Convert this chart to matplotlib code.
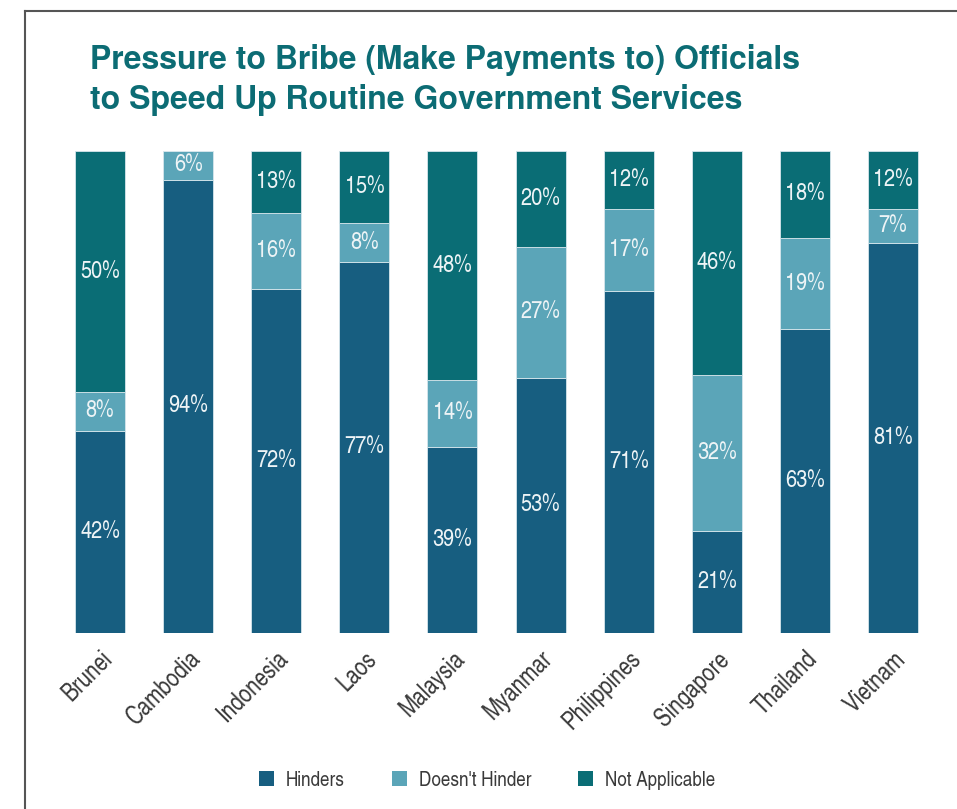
import numpy as np
import matplotlib
matplotlib.use("Agg")
import matplotlib.pyplot as plt
from matplotlib.lines import Line2D
from matplotlib.patches import Patch

# ---- data (percent shown on the chart) ----
countries = ['Brunei', 'Cambodia', 'Indonesia', 'Laos', 'Malaysia',
             'Myanmar', 'Philippines', 'Singapore', 'Thailand', 'Vietnam']
hinders = [42, 94, 72, 77, 39, 53, 71, 21, 63, 81]
doesnt_hinder = [8, 6, 16, 8, 14, 27, 17, 32, 19, 7]
not_applicable = [50, 0, 13, 15, 48, 20, 12, 46, 18, 12]

series_names = ['Hinders', "Doesn't Hinder", 'Not Applicable']
colors = ['#175e80', '#5ba5b8', '#0a6d75']

narrow = ['TeX Gyre Heros Cn', 'Liberation Sans', 'DejaVu Sans']
plt.rcParams['font.family'] = narrow

vals = np.array([hinders, doesnt_hinder, not_applicable], dtype=float)
# bars in the original are scaled to a full 100% column
shares = vals / vals.sum(axis=0) * 100

fig = plt.figure(figsize=(9.57, 8.09), dpi=100)
ax = fig.add_axes([56 / 957, 176 / 809, 881 / 957, 482 / 809])

x = np.arange(len(countries))
bottom = np.zeros(len(countries))
for i in range(3):
    ax.bar(x, shares[i], 0.567, bottom=bottom, color=colors[i],
           edgecolor='#d6e6ec', linewidth=0.6)
    for j in range(len(countries)):
        if vals[i, j] > 0:
            ax.text(x[j], bottom[j] + shares[i, j] / 2, f'{int(vals[i, j])}%',
                    ha='center', va='center', color='#eef4f6', fontsize=17.5)
    bottom += shares[i]

ax.set_xlim(-0.5, len(countries) - 0.5)
ax.set_ylim(0, 100)
ax.set_yticks([])
ax.set_xticks(x)
ax.set_xticklabels(countries, rotation=45, ha='right', va='top',
                   rotation_mode='anchor', fontsize=18, color='#3a3a3a')
ax.tick_params(axis='x', length=0, pad=10)
for s in ax.spines.values():
    s.set_visible(False)

# title
fig.text(90 / 957, 1 - 44 / 809,
         'Pressure to Bribe (Make Payments to) Officials\nto Speed Up Routine Government Services',
         ha='left', va='top', fontsize=23, fontweight='bold', color='#0c6c74',
         family=['TeX Gyre Heros', 'Liberation Sans', 'DejaVu Sans'], linespacing=1.3)

# legend
handles = [Patch(facecolor=c, edgecolor='none') for c in colors]
fig.legend(handles, series_names, loc='center', bbox_to_anchor=(487 / 957, 1 - 780 / 809),
           ncol=3, frameon=False, fontsize=15, handlelength=0.72, handleheight=0.72,
           columnspacing=2.25, handletextpad=0.58, labelcolor='#3a3a3a')

# frame lines (left and top)
fig.add_artist(Line2D([25 / 957, 25 / 957], [0, 1 - 11 / 809], color='#555555', linewidth=1.5))
fig.add_artist(Line2D([25 / 957, 1], [1 - 11 / 809, 1 - 11 / 809], color='#555555', linewidth=1.5))

fig.savefig('out.png', dpi=100)
